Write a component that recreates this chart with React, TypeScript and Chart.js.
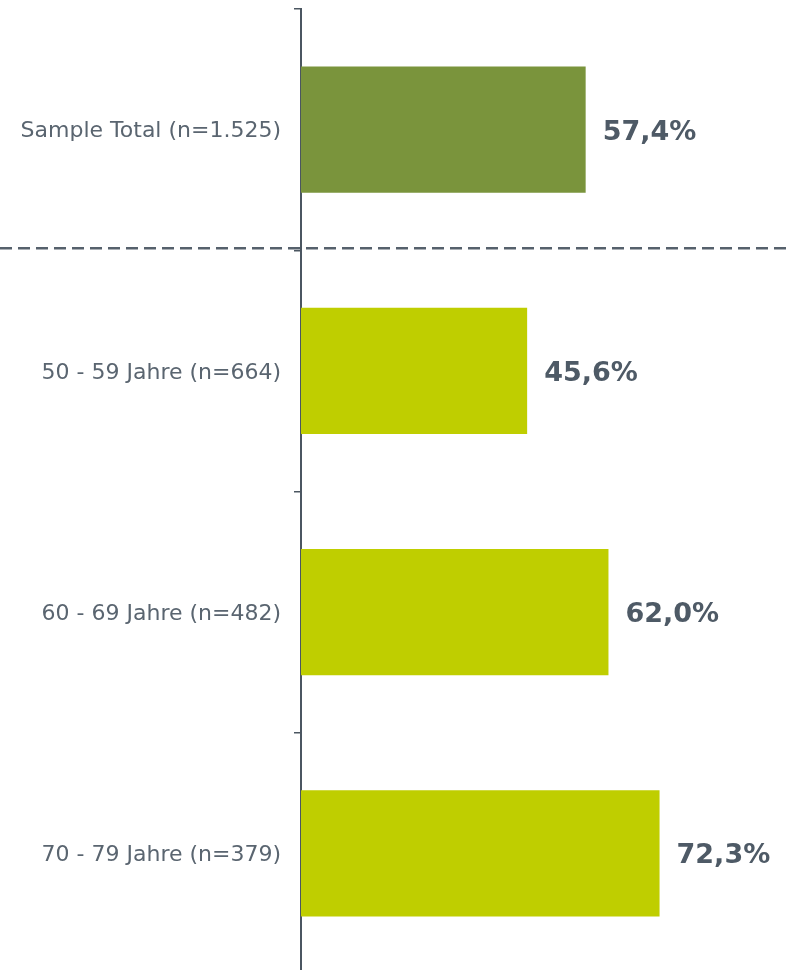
import React, { useEffect, useRef } from "react";
import { Chart, registerables } from "chart.js";

Chart.register(...registerables);

const categories = [
  "Sample Total (n=1.525)",
  "50 - 59 Jahre (n=664)",
  "60 - 69 Jahre (n=482)",
  "70 - 79 Jahre (n=379)",
];
const values = [57.4, 45.6, 62.0, 72.3];
const barColors = ["#7A943C", "#BFCE00", "#BFCE00", "#BFCE00"];

const AXIS_COLOR = "#4B5661";
const LABEL_COLOR = "#5A6570";
const VALUE_COLOR = "#4E5A66";

const fmt = (v: number) => v.toFixed(1).replace(".", ",") + "%";

const overlayPlugin = {
  id: "overlay",
  afterDatasetsDraw(chart: any) {
    const ctx = chart.ctx;
    const meta = chart.getDatasetMeta(0);
    ctx.save();
    ctx.font = "bold 27px 'DejaVu Sans'";
    ctx.fillStyle = VALUE_COLOR;
    ctx.textAlign = "left";
    ctx.textBaseline = "middle";
    meta.data.forEach((bar: any, i: number) => {
      ctx.fillText(fmt(values[i]), bar.x + 17, bar.y + 3);
    });
    ctx.restore();
  },
  afterDraw(chart: any) {
    const ctx = chart.ctx;
    const y = chart.scales.y;
    const yy = (y.getPixelForValue(0) + y.getPixelForValue(1)) / 2 - 2;
    ctx.save();
    ctx.strokeStyle = "#56616C";
    ctx.lineWidth = 2.5;
    ctx.setLineDash([12, 6]);
    ctx.beginPath();
    ctx.moveTo(0, yy);
    ctx.lineTo(chart.width, yy);
    ctx.stroke();
    ctx.restore();
  },
};

export default function App() {
  const ref = useRef<HTMLCanvasElement | null>(null);
  useEffect(() => {
    document.body.style.margin = "0";
    const chart = new Chart(ref.current!, {
      type: "bar",
      data: {
        labels: categories,
        datasets: [
          {
            data: values,
            backgroundColor: barColors,
            borderWidth: 0,
            categoryPercentage: 1,
            barPercentage: 0.523,
          },
        ],
      },
      options: {
        indexAxis: "y",
        responsive: false,
        animation: false,
        layout: { padding: { top: 9, bottom: 0, left: 0, right: 0 } },
        plugins: { legend: { display: false }, tooltip: { enabled: false } },
        scales: {
          x: { display: false, min: 0, max: 98 },
          y: {
            type: "category",
            afterFit: (s: any) => {
              s.width = 301;
              s.paddingTop = 0;
              s.paddingBottom = 0;
            },
            grid: {
              offset: true,
              drawOnChartArea: false,
              tickLength: 7,
              color: AXIS_COLOR,
              lineWidth: 1.5,
            },
            border: { color: AXIS_COLOR, width: 2 },
            ticks: {
              color: LABEL_COLOR,
              font: { family: "'DejaVu Sans'", size: 22 },
              padding: 13,
              labelOffset: 2,
            },
          },
        },
      },
      plugins: [overlayPlugin],
    });
    return () => chart.destroy();
  }, []);
  return (
    <div style={{ width: 787, height: 970, overflow: "hidden" }}>
      <canvas ref={ref} width={787} height={974} style={{ display: "block" }} />
    </div>
  );
}
